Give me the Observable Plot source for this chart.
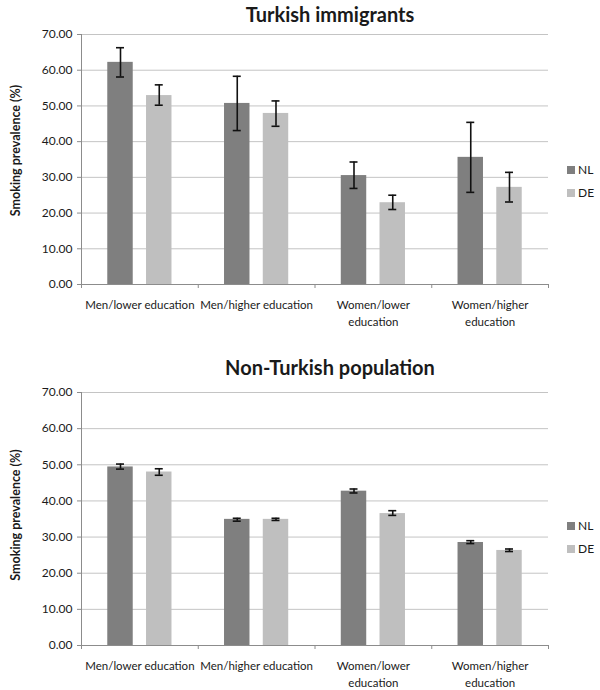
<!DOCTYPE html>
<html>
<head>
<meta charset="utf-8">
<script src="https://cdn.jsdelivr.net/npm/d3@7"></script>
<script src="https://cdn.jsdelivr.net/npm/@observablehq/plot@0.6"></script>
<style>
  html, body { margin: 0; padding: 0; background: #fff; }
  #root { position: relative; width: 600px; height: 690px; font-family: Lato, "Open Sans", sans-serif; color: #1a1a1a; }
  .title { position: absolute; left: 130px; width: 400px; text-align: center; font-weight: bold; font-size: 20px; line-height: 20px; }
  .panel { position: absolute; left: 0; }
  .legend { position: absolute; left: 567px; font-size: 12px; }
  .legend .item { position: absolute; left: 0; white-space: nowrap; height: 12px; line-height: 12px; }
  .legend .sw { display: inline-block; width: 8px; height: 8px; vertical-align: middle; margin-right: 3px; position: relative; top: -1px; }
</style>
</head>
<body>
<div id="root"></div>
<script>
// ---- data ----
const categories = ["Men/lower education", "Men/higher education", "Women/lower\neducation", "Women/higher\neducation"];
const series = ["NL", "DE"];
const seriesColors = ["#7f7f7f", "#bfbfbf"];
const yTicks = [0, 10, 20, 30, 40, 50, 60, 70];
const panelTitles = ["Turkish immigrants", "Non-Turkish population"];
const yLabel = "Smoking prevalence (%)";

// Turkish immigrants
const turkNL = [62.2, 50.7, 30.5, 35.6];
const turkNLlow = [58.1, 43.1, 26.9, 25.8];
const turkNLhigh = [66.3, 58.3, 34.3, 45.4];
const turkDE = [52.9, 47.9, 22.9, 27.2];
const turkDElow = [50.2, 44.3, 21.0, 23.1];
const turkDEhigh = [55.9, 51.4, 25.0, 31.4];

// Non-Turkish population
const nonNL = [49.4, 34.9, 42.7, 28.5];
const nonNLlow = [48.8, 34.4, 42.2, 28.2];
const nonNLhigh = [50.2, 35.2, 43.3, 29.0];
const nonDE = [48.0, 34.9, 36.5, 26.3];
const nonDElow = [47.1, 34.6, 36.0, 26.0];
const nonDEhigh = [48.9, 35.2, 37.3, 26.7];

// ---- build ----
const inner = d3.scaleBand().domain(series).range([0, 1]).paddingInner(0.343).paddingOuter(0.678);

function rowsFor(vals) {
  const rows = [];
  vals.forEach(([v, lo, hi], s) => {
    categories.forEach((c, i) => {
      rows.push({cat: i, series: series[s], color: seriesColors[s], value: v[i], lo: lo[i], hi: hi[i],
        x1: i + inner(series[s]), x2: i + inner(series[s]) + inner.bandwidth(),
        cx: i + inner(series[s]) + inner.bandwidth() / 2});
    });
  });
  return rows;
}

function panel(rows, {height, marginBottom, labelDy}) {
  const grid = "#c4c4c4", axisGray = "#8c8c8c", text = "#1a1a1a";
  return Plot.plot({
    width: 600, height, marginLeft: 81, marginRight: 52, marginTop: 9, marginBottom,
    x: {domain: [0, categories.length], axis: null},
    y: {domain: [0, 70], axis: null},
    style: {fontFamily: "Lato, 'Open Sans', sans-serif", fontSize: "12px", background: "transparent", color: text},
    marks: [
      Plot.ruleY(yTicks.filter(t => t > 0), {stroke: grid, strokeWidth: 1}),
      Plot.rectY(rows, {x1: "x1", x2: "x2", y1: 0, y2: "value", fill: "color"}),
      Plot.ruleY([0], {stroke: axisGray}),
      Plot.ruleX([0], {stroke: axisGray}),
      Plot.ruleY(yTicks, {x1: 0, x2: 0, insetLeft: -4, stroke: axisGray}),
      Plot.ruleX(d3.range(categories.length + 1), {y1: 0, y2: 0, insetBottom: -4, stroke: axisGray}),
      Plot.axisY({ticks: yTicks, tickFormat: d3.format(".2f"), tickSize: 0, tickPadding: 9, label: null, color: text}),
      Plot.ruleX(rows, {x: "cx", y1: "lo", y2: "hi", stroke: "#111", strokeWidth: 1.6}),
      Plot.ruleY(rows, {x1: "cx", x2: "cx", y: "lo", insetLeft: -4, insetRight: -4, stroke: "#111", strokeWidth: 1.6}),
      Plot.ruleY(rows, {x1: "cx", x2: "cx", y: "hi", insetLeft: -4, insetRight: -4, stroke: "#111", strokeWidth: 1.6}),
      Plot.text(categories, {x: (d, i) => i + 0.5, frameAnchor: "bottom", lineAnchor: "top", dy: 13, lineHeight: 1.45, fontSize: 11.5, fill: text}),
      Plot.text([yLabel], {frameAnchor: "left", textAnchor: "middle", rotate: -90, dx: -66, dy: labelDy, fontSize: 12.5, fontWeight: "bold", fill: text})
    ]
  });
}

const root = document.getElementById("root");

function addTitle(txt, top) {
  const d = document.createElement("div");
  d.className = "title"; d.style.top = top + "px"; d.textContent = txt;
  root.appendChild(d);
}
function addPanel(svg, top) {
  const d = document.createElement("div");
  d.className = "panel"; d.style.top = top + "px"; d.appendChild(svg);
  root.appendChild(d);
}
function addLegend(tops) {
  const lg = document.createElement("div");
  lg.className = "legend"; lg.style.top = "0px";
  series.forEach((s, i) => {
    const it = document.createElement("div");
    it.className = "item"; it.style.top = tops[i] + "px";
    const sw = document.createElement("span");
    sw.className = "sw"; sw.style.background = seriesColors[i];
    it.appendChild(sw);
    it.appendChild(document.createTextNode(s));
    lg.appendChild(it);
  });
  root.appendChild(lg);
}

addTitle(panelTitles[0], 4);
addPanel(panel(rowsFor([[turkNL, turkNLlow, turkNLhigh], [turkDE, turkDElow, turkDEhigh]]), {height: 309, marginBottom: 50, labelDy: -9}), 25);
addLegend([164, 187]);

addTitle(panelTitles[1], 357);
addPanel(panel(rowsFor([[nonNL, nonNLlow, nonNLhigh], [nonDE, nonDElow, nonDEhigh]]), {height: 307, marginBottom: 45, labelDy: -4}), 383);
addLegend([520, 543]);
</script>
</body>
</html>
